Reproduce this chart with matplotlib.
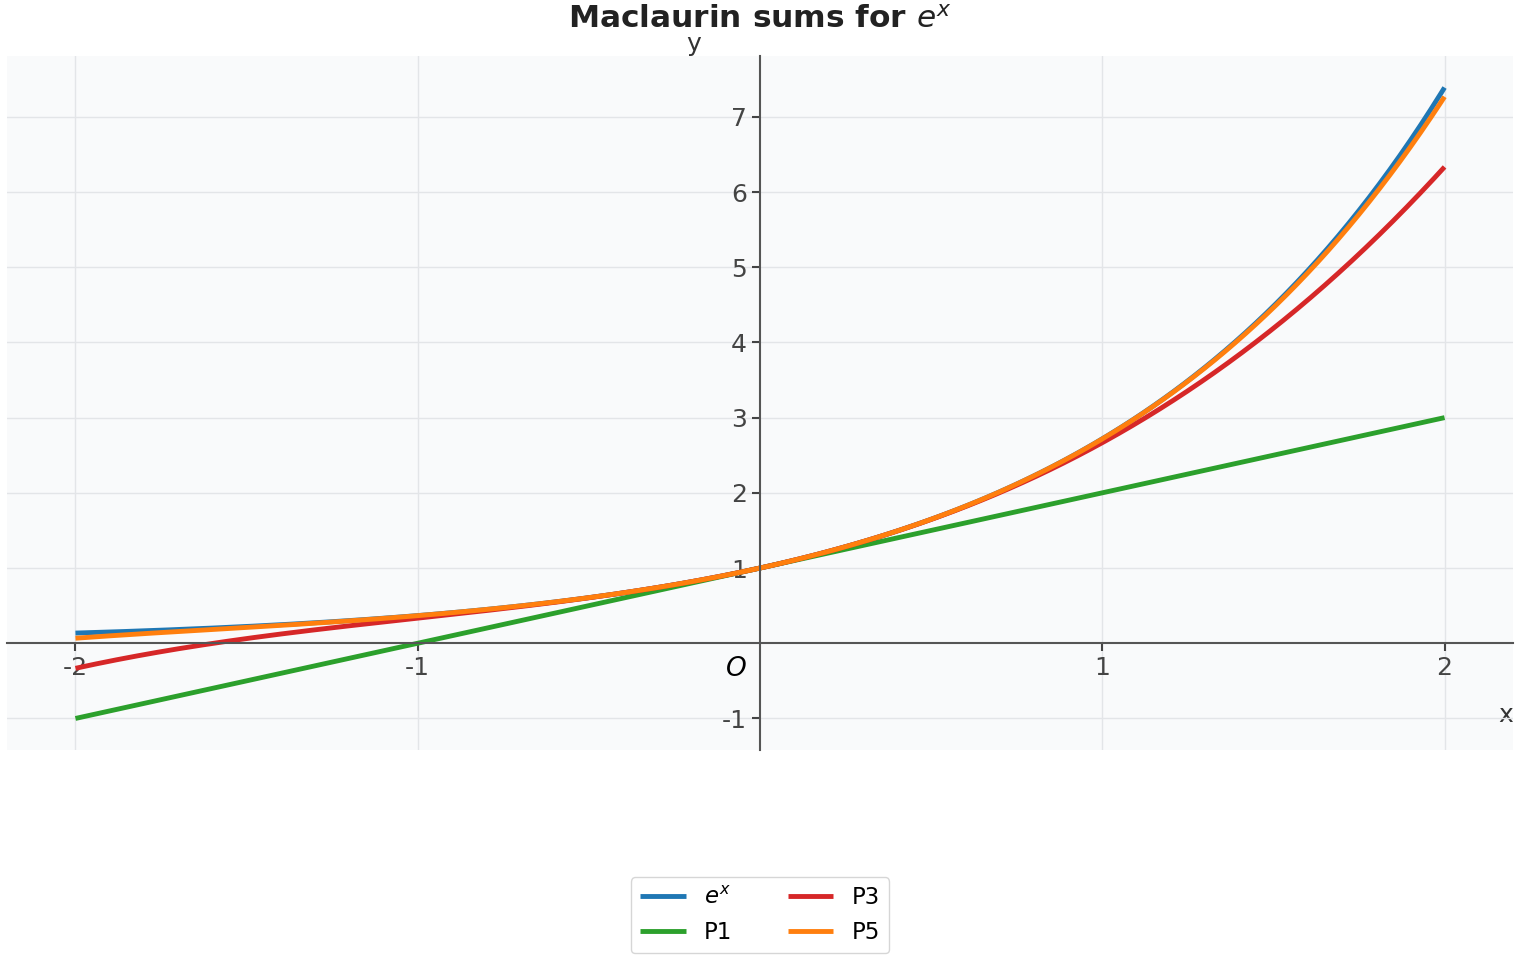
import math
import numpy as np
import matplotlib
matplotlib.use("Agg")
import matplotlib.pyplot as plt

# ---- data ----
x_min, x_max = -2.0, 2.0
n_samples = 400
orders = [1, 3, 5]
series_labels = [r"$e^x$", "P1", "P3", "P5"]
series_colors = ["#1f77b4", "#2ca02c", "#d62728", "#ff7f0e"]
x_ticks = [-2, -1, 1, 2]
x_tick_labels = ["-2", "-1", "1", "2"]
y_ticks = [-1, 1, 2, 3, 4, 5, 6, 7]
y_tick_labels = ["-1", "1", "2", "3", "4", "5", "6", "7"]

x = np.linspace(x_min, x_max, n_samples)


def maclaurin(xv, n):
    return sum(xv ** k / math.factorial(k) for k in range(n + 1))


ys = [np.exp(x)] + [maclaurin(x, n) for n in orders]

# ---- figure ----
fig = plt.figure(figsize=(15.2, 9.6), dpi=100)
ax = fig.add_axes([7 / 1520, 1 - 750 / 960, 1506 / 1520, 694 / 960])
ax.set_facecolor("#f9fafb")

for y, lab, col in zip(ys, series_labels, series_colors):
    ax.plot(x, y, color=col, lw=3.5, label=lab, solid_capstyle="butt")

ax.spines["left"].set_position(("data", 0))
ax.spines["bottom"].set_position(("data", 0))
ax.spines["top"].set_visible(False)
ax.spines["right"].set_visible(False)
for s in ("left", "bottom"):
    ax.spines[s].set_color("#555555")
    ax.spines[s].set_linewidth(1.5)

ax.set_xticks(x_ticks)
ax.set_xticklabels(x_tick_labels)
ax.set_yticks(y_ticks)
ax.set_yticklabels(y_tick_labels)
ax.tick_params(labelsize=18, colors="#444444", length=6, width=1.5, pad=3.5)
ax.grid(True, color="#e3e5e8", lw=1)
ax.set_axisbelow(True)

ax.set_xlabel("x", loc="right", fontsize=18, color="#333333", labelpad=16)
ax.set_ylabel("y", loc="top", rotation=0, fontsize=18, color="#333333", labelpad=15)
ax.text(-0.04, -0.34, "$O$", fontsize=19, ha="right", va="center", color="black")

ax.set_title(r"Maclaurin sums for $e^x$", fontsize=22.5, fontweight="bold",
             color="#222222", pad=20)

fig.legend(loc="lower center", ncol=2, fontsize=16.5, frameon=True,
           bbox_to_anchor=(0.5, 0.0), handlelength=2, columnspacing=2.4,
           borderaxespad=0.3, edgecolor="#cccccc", fancybox=True)

fig.savefig("out.png", dpi=100)
